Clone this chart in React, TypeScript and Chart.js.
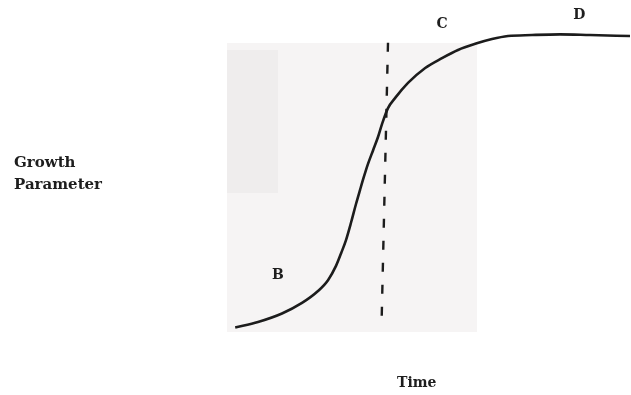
import React, { useEffect, useRef } from "react";
import { Chart, registerables } from "chart.js";

Chart.register(...registerables);

// Growth curve (time units 0-100, growth parameter units 0-100)
const curveTime = [1.3, 7, 13, 18, 22, 24.5, 26.5, 27.8, 29, 30.3, 31.5, 32.5, 33.5, 34.5, 35.8, 37, 38, 39.5, 41.3, 44.5, 48.8, 53, 57, 61.3, 65.5, 69.5, 75.5, 82.5, 90, 100];
const curveGrowth = [3.7, 5.3, 7.8, 10.9, 14.4, 17.6, 21.8, 25.6, 29.4, 34.7, 40, 44.1, 48.1, 51.8, 55.9, 59.7, 63.5, 68.2, 71.2, 75.6, 80, 82.9, 85.3, 87.1, 88.5, 89.4, 89.7, 89.9, 89.7, 89.4];

// Dashed vertical marker (top, bottom)
const markerTime = [39.5, 37.9];
const markerGrowth = [87.4, 5.3];

// Phase labels
const phaseLabels = ["B", "C", "D"];
const phaseTime = [12, 53, 87.3];
const phaseGrowth = [19.1, 92.9, 95.6];

const yTitleLines = ["Growth", "Parameter"];
const xTitle = "Time";

export default function App() {
  const ref = useRef<HTMLCanvasElement | null>(null);

  useEffect(() => {
    if (!ref.current) return;
    const bgPlugin = {
      id: "scanBg",
      beforeDraw(chart: any) {
        const ctx = chart.ctx;
        ctx.save();
        ctx.fillStyle = "#ffffff";
        ctx.fillRect(0, 0, chart.width, chart.height);
        ctx.fillStyle = "#f6f4f4";
        ctx.fillRect(227, 43, 250, 289);
        ctx.fillStyle = "#efeded";
        ctx.fillRect(227, 50, 51, 143);
        ctx.restore();
      },
      afterDraw(chart: any) {
        const ctx = chart.ctx;
        const xs = chart.scales.x;
        const ys = chart.scales.y;
        ctx.save();
        ctx.fillStyle = "#1e1e1e";
        ctx.textAlign = "left";
        ctx.textBaseline = "alphabetic";
        ctx.font = "bold 15px 'DejaVu Serif'";
        ctx.fillText(yTitleLines[0], 14, 167);
        ctx.fillText(yTitleLines[1], 14, 189);
        ctx.font = "bold 14px 'DejaVu Serif'";
        ctx.fillText(xTitle, 397, 387);
        ctx.textAlign = "center";
        ctx.textBaseline = "middle";
        phaseLabels.forEach((l, i) => {
          ctx.fillText(l, xs.getPixelForValue(phaseTime[i]), ys.getPixelForValue(phaseGrowth[i]));
        });
        ctx.restore();
      },
    };

    const chart = new Chart(ref.current, {
      type: "scatter",
      data: {
        datasets: [
          {
            data: curveTime.map((t, i) => ({ x: t, y: curveGrowth[i] })),
            showLine: true,
            borderColor: "#1c1c1c",
            borderWidth: 2.6,
            pointRadius: 0,
            cubicInterpolationMode: "monotone",
            fill: false,
          },
          {
            data: markerTime.map((t, i) => ({ x: t, y: markerGrowth[i] })),
            showLine: true,
            borderColor: "#1c1c1c",
            borderWidth: 2.4,
            borderDash: [9, 13],
            pointRadius: 0,
            fill: false,
          },
        ],
      },
      options: {
        responsive: false,
        animation: false,
        devicePixelRatio: 1,
        layout: { padding: { left: 230, right: 1, top: 0, bottom: 55 } },
        plugins: { legend: { display: false }, tooltip: { enabled: false } },
        scales: {
          x: { type: "linear", min: 0, max: 100, display: false },
          y: { type: "linear", min: 0, max: 100, display: false },
        },
      },
      plugins: [bgPlugin],
    });
    return () => chart.destroy();
  }, []);

  return (
    <div style={{ position: "absolute", left: 0, top: 0, width: 631, height: 395, background: "#fff" }}>
      <canvas ref={ref} width={631} height={395} style={{ display: "block" }} />
    </div>
  );
}
